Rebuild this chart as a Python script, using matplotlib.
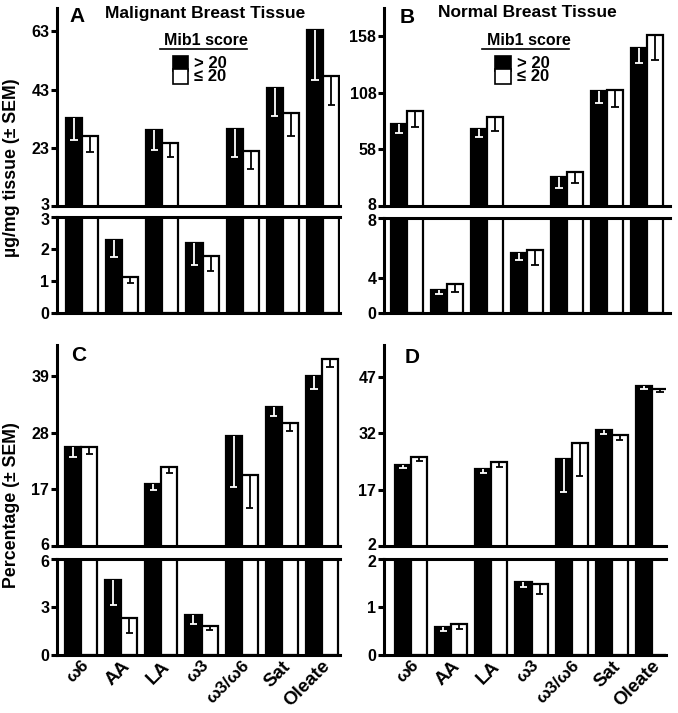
import numpy as np
import matplotlib
matplotlib.use('Agg')
import matplotlib.pyplot as plt
from matplotlib.patches import Rectangle
from matplotlib.transforms import ScaledTranslation

plt.rcParams['font.family'] = ['Liberation Sans', 'DejaVu Sans']
plt.rcParams['font.weight'] = 'bold'

# categories
cats = ['ω6', 'AA', 'LA', 'ω3', 'ω3/ω6', 'Sat', 'Oleate']

# A: malignant tissue, ug/mg
hi_A = [33.2, 2.28, 29.2, 2.18, 29.6, 43.6, 63.5]
hi_A_sem = [7.4, 0.54, 7.1, 0.68, 9.9, 9.8, 17.1]
lo_A = [26.9, 1.14, 24.6, 1.79, 22.0, 35.0, 47.6]
lo_A_sem = [5.2, 0.19, 4.9, 0.47, 6.4, 7.8, 9.8]

# B: normal tissue, ug/mg
hi_B = [80.1, 2.64, 75.9, 5.69, 33.9, 109.5, 148.0]
hi_B_sem = [7.9, 0.5, 6.8, 0.45, 9.7, 10.9, 14.0]
lo_B = [92.1, 3.3, 86.8, 5.85, 38.0, 110.4, 158.9]
lo_B_sem = [14.0, 0.85, 12.6, 0.97, 9.4, 14.8, 21.5]

# C: malignant tissue, percentage
hi_C = [25.2, 4.71, 18.0, 2.47, 27.4, 32.9, 38.9]
hi_C_sem = [1.9, 1.6, 1.1, 0.55, 9.9, 1.6, 2.4]
lo_C = [25.2, 2.34, 21.3, 1.84, 19.7, 29.9, 42.3]
lo_C_sem = [1.4, 0.98, 1.2, 0.27, 6.4, 1.6, 1.6]

# D: normal tissue, percentage
hi_D = [23.6, 0.59, 22.4, 1.53, 25.2, 32.8, 44.7]
hi_D_sem = [0.9, 0.10, 1.0, 0.12, 8.9, 1.0, 1.0]
lo_D = [25.6, 0.65, 24.3, 1.48, 29.5, 31.6, 43.8]
lo_D_sem = [1.0, 0.11, 1.2, 0.21, 8.8, 1.4, 0.9]

# axis ticks for upper / lower segments
ticks_A_up = [3, 23, 43, 63]
ticks_A_lo = [0, 1, 2, 3]
ticks_B_up = [8, 58, 108, 158]
ticks_B_lo = [0, 4, 8]
ticks_C_up = [6, 17, 28, 39]
ticks_C_lo = [0, 3, 6]
ticks_D_up = [2, 17, 32, 47]
ticks_D_lo = [0, 1, 2]

W, H = 678, 713
fig = plt.figure(figsize=(W / 100, H / 100), dpi=100)

def px_axes(x0, x1, ytop, ybot):
    return fig.add_axes([x0 / W, 1 - ybot / H, (x1 - x0) / W, (ybot - ytop) / H])

bw = 0.4
lw_sp = 2.2
tick_fs = 11.5

def draw_bars(ax, hi, hi_sem, lo, lo_sem):
    x = np.arange(len(cats))
    ax.bar(x - bw / 2, hi, bw, color='black', edgecolor='black', linewidth=1.6, zorder=2)
    ax.bar(x + bw / 2, lo, bw, color='white', edgecolor='black', linewidth=1.6, zorder=2)
    hi = np.array(hi); lo = np.array(lo)
    hs = np.array(hi_sem); ls = np.array(lo_sem)
    ax.vlines(x - bw / 2, hi - hs, hi, colors='white', linewidth=1.3, zorder=3)
    ax.hlines(hi - hs, x - bw / 2 - 0.09, x - bw / 2 + 0.09, colors='white', linewidth=1.3, zorder=3)
    ax.vlines(x + bw / 2, lo - ls, lo, colors='black', linewidth=1.3, zorder=3)
    ax.hlines(lo - ls, x + bw / 2 - 0.09, x + bw / 2 + 0.09, colors='black', linewidth=1.3, zorder=3)

def style(ax, top_spine):
    ax.spines['right'].set_visible(False)
    ax.spines['top'].set_visible(top_spine)
    for s in ax.spines.values():
        s.set_linewidth(lw_sp)
    ax.tick_params(axis='y', direction='out', length=4, width=lw_sp, labelsize=tick_fs, pad=1.5)
    ax.tick_params(axis='x', length=0)
    ax.set_xticks([])

def panel(x0, x1, y_up, y_mid1, y_mid2, y_bot, hi, hi_sem, lo, lo_sem,
          tup, tlo, yl_up, yl_lo, xlim, show_x, scale_lo=None):
    ax_u = px_axes(x0, x1, y_up, y_mid1)
    ax_l = px_axes(x0, x1, y_mid2, y_bot)
    for ax in (ax_u, ax_l):
        draw_bars(ax, hi, hi_sem, lo, lo_sem)
        ax.set_xlim(*xlim)
    if scale_lo is not None:
        ax_l.set_yscale('function', functions=scale_lo)
    ax_u.set_ylim(*yl_up)
    ax_l.set_ylim(*yl_lo)
    style(ax_u, False)
    style(ax_l, True)
    ax_u.set_yticks(tup)
    ax_l.set_yticks(tlo)
    labs_u = ax_u.set_yticklabels([str(t) for t in tup])
    labs_l = ax_l.set_yticklabels([str(t) for t in tlo])
    # nudge the two labels at the axis break apart a little
    labs_u[0].set_transform(labs_u[0].get_transform() + ScaledTranslation(0, 1.6 / 72, fig.dpi_scale_trans))
    labs_l[-1].set_transform(labs_l[-1].get_transform() + ScaledTranslation(0, -1.6 / 72, fig.dpi_scale_trans))
    if show_x:
        ax_l.set_xticks(np.arange(len(cats)))
        labs = ax_l.set_xticklabels(cats, rotation=45, ha='right', va='top',
                                    rotation_mode='anchor', fontsize=13.5)
        for lab in labs:
            if 'ω' in lab.get_text():
                lab.set_fontsize(12.5)
        ax_l.tick_params(axis='x', pad=2)
    return ax_u, ax_l

# piecewise axis used in panel B lower segment
def fwd(y):
    y = np.asarray(y, dtype=float)
    return np.where(y < 4, y * 0.7325, 2.93 + (y - 4) * 1.2675)

def inv(y):
    y = np.asarray(y, dtype=float)
    return np.where(y < 2.93, y / 0.7325, 4 + (y - 2.93) / 1.2675)

aA, aA2 = panel(57, 340, 8, 206, 217, 313, hi_A, hi_A_sem, lo_A, lo_A_sem,
                ticks_A_up, ticks_A_lo, (3, 71), (0, 3), (-0.62, 6.42), False)
aB, aB2 = panel(384, 670, 8, 206, 218, 313, hi_B, hi_B_sem, lo_B, lo_B_sem,
                ticks_B_up, ticks_B_lo, (8, 183), (0, 8), (-0.575, 6.575), False,
                scale_lo=(fwd, inv))
aC, aC2 = panel(57, 340, 345, 546, 559, 655, hi_C, hi_C_sem, lo_C, lo_C_sem,
                ticks_C_up, ticks_C_lo, (6, 45), (0, 6), (-0.6, 6.45), True)
aD, aD2 = panel(384, 666, 345, 546, 559, 655, hi_D, hi_D_sem, lo_D, lo_D_sem,
                ticks_D_up, ticks_D_lo, (2, 55.5), (0, 2), (-0.675, 6.35), True)

# panel letters and titles
aA.text(0.07, 0.955, 'A', transform=aA.transAxes, fontsize=15, ha='center', va='center')
aB.text(0.08, 0.95, 'B', transform=aB.transAxes, fontsize=15, ha='center', va='center')
aC.text(0.078, 0.95, 'C', transform=aC.transAxes, fontsize=15, ha='center', va='center')
aD.text(0.1, 0.94, 'D', transform=aD.transAxes, fontsize=15, ha='center', va='center')
aA.text(0.523, 0.972, 'Malignant Breast Tissue', transform=aA.transAxes, fontsize=12.5,
        ha='center', va='center')
aB.text(0.5, 0.975, 'Normal Breast Tissue', transform=aB.transAxes, fontsize=12.5,
        ha='center', va='center')

# legends
def legend(ax, xc, xl0, xl1, xsq, xtxt, sqw, sqh):
    ax.text(xc, 0.838, 'Mib1 score', transform=ax.transAxes, fontsize=11.5,
            ha='center', va='center')
    ax.plot([xl0, xl1], [0.793, 0.793], transform=ax.transAxes, color='black',
            linewidth=1.2, clip_on=False)
    ax.add_patch(Rectangle((xsq - sqw / 2, 0.722 - sqh / 2), sqw, sqh, transform=ax.transAxes,
                           facecolor='black', edgecolor='black', linewidth=1.2))
    ax.add_patch(Rectangle((xsq - sqw / 2, 0.652 - sqh / 2), sqw, sqh, transform=ax.transAxes,
                           facecolor='white', edgecolor='black', linewidth=1.2))
    ax.text(xtxt, 0.722, '> 20', transform=ax.transAxes, fontsize=12, ha='left', va='center')
    ax.text(xtxt, 0.652, '≤ 20', transform=ax.transAxes, fontsize=12, ha='left', va='center')

legend(aA, 0.527, 0.364, 0.671, 0.436, 0.484, 0.053, 0.076)
legend(aB, 0.505, 0.343, 0.647, 0.416, 0.465, 0.053, 0.076)

# y labels
fig.text(12 / W, 1 - 168 / H, 'µg/mg tissue (± SEM)', rotation=90, fontsize=12.8,
         ha='center', va='center')
fig.text(12 / W, 1 - 505 / H, 'Percentage (± SEM)', rotation=90, fontsize=12.8,
         ha='center', va='center')

fig.savefig('out.png', dpi=100)
